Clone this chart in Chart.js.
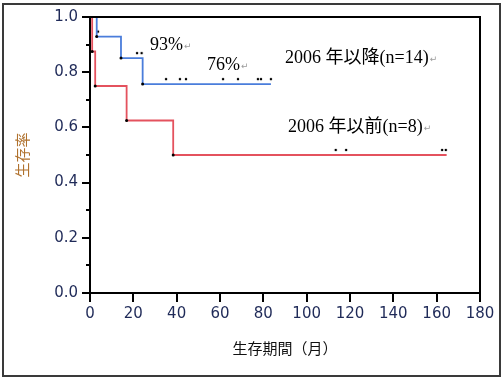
<!DOCTYPE html>
<html><head><meta charset="utf-8">
<script src="https://cdn.jsdelivr.net/npm/chart.js@4.4.1/dist/chart.umd.min.js"></script>
<style>html,body{margin:0;padding:0;background:#fff;}#wrap{width:504px;height:381px;}</style>
</head><body><div id="wrap"><canvas id="c" width="504" height="381"></canvas></div>
<script>
// ---- data ----
const xTickValues = [0, 20, 40, 60, 80, 100, 120, 140, 160, 180];
const yTickValues = [0.0, 0.2, 0.4, 0.6, 0.8, 1.0];
const yMinorTicks = [0.1, 0.3, 0.5, 0.7, 0.9];

// 2006年以降 (n=14): event times and survival after each step
const afterTimes = [0, 3.1, 14.3, 24.3, 83.5];
const afterSurv  = [1.0, 0.929, 0.851, 0.757, 0.757];
const afterCensor = [3.7, 21.7, 23.8, 35.1, 41.5, 44.3, 61.4, 68.3, 77.5, 78.9, 83.5];

// 2006年以前 (n=8)
const beforeTimes = [0, 1.0, 2.4, 16.9, 38.4, 164.6];
const beforeSurv  = [1.0, 0.875, 0.75, 0.625, 0.5, 0.5];
const beforeCensor = [113.4, 118.2, 162.5, 164.2];

const labelAfter = '2006 年以降(n=14)';
const labelBefore = '2006 年以前(n=8)';
const label1y = '93%';
const label5y = '76%';
const xTitle = '生存期間（月）';
const yTitle = '生存率';

// ---- helpers ----
function toPoints(ts, ss) { return ts.map((t, i) => ({x: t, y: ss[i]})); }
function survAt(ts, ss, t) { let v = ss[0]; for (let i = 0; i < ts.length; i++) { if (ts[i] <= t) v = ss[i]; } return v; }
function censorPoints(ts, ss, cs) { return cs.map(t => ({x: t, y: survAt(ts, ss, t)})); }

const censorImg = document.createElement('canvas');
censorImg.width = 6; censorImg.height = 16;
(function(){ const g = censorImg.getContext('2d'); g.fillStyle = '#000'; g.beginPath(); g.arc(3, 3, 1.25, 0, Math.PI*2); g.fill(); })();

const BLUE = '#4a7ddb';
const RED = '#e4525e';
const TICKCOL = '#1f2a58';

function eventRadius(n) { return ctx => (ctx.dataIndex === 0 || ctx.dataIndex === n - 1) ? 0 : 1.5; }

const decor = {
  id: 'decor',
  beforeDraw(chart) {
    const c = chart.ctx;
    c.save();
    c.fillStyle = '#fff'; c.fillRect(0, 0, chart.width, chart.height);
    c.strokeStyle = '#3a3a3a'; c.lineWidth = 2;
    c.strokeRect(3, 4, 497, 372);
    c.restore();
  },
  afterDraw(chart) {
    const c = chart.ctx, a = chart.chartArea, ys = chart.scales.y;
    c.save();
    c.strokeStyle = '#000'; c.lineWidth = 2;
    c.beginPath();
    c.moveTo(a.left, a.top); c.lineTo(a.right, a.top); c.lineTo(a.right, a.bottom);
    c.stroke();
    c.beginPath();
    yMinorTicks.forEach(v => { const p = Math.round(ys.getPixelForValue(v)); c.moveTo(a.left - 4, p); c.lineTo(a.left, p); });
    c.stroke();
    c.fillStyle = '#000';
    c.textBaseline = 'middle'; c.textAlign = 'left';
    c.font = "18px 'Liberation Serif', 'Noto Sans CJK JP', serif";
    const items = [[label1y, 150, 45], [label5y, 207, 65], [labelAfter, 285, 58], [labelBefore, 288, 127]];
    items.forEach(([t, x, y]) => {
      c.font = "18px 'Liberation Serif', 'Noto Sans CJK JP', serif";
      c.fillStyle = '#000';
      c.fillText(t, x, y);
      const w = c.measureText(t).width;
      c.font = "9px 'DejaVu Sans'";
      c.fillStyle = '#9a9a9a';
      c.fillText('↵', x + w + 1, y + 2);
    });
    c.restore();
  }
};

new Chart(document.getElementById('c'), {
  type: 'line',
  data: {
    datasets: [
      { label: labelAfter, data: toPoints(afterTimes, afterSurv), stepped: 'before', borderColor: BLUE, borderWidth: 1.8,
        pointRadius: eventRadius(afterTimes.length), pointBackgroundColor: '#000', pointBorderWidth: 0, fill: false },
      { label: labelBefore, data: toPoints(beforeTimes, beforeSurv), stepped: 'before', borderColor: RED, borderWidth: 1.8,
        pointRadius: eventRadius(beforeTimes.length), pointBackgroundColor: '#000', pointBorderWidth: 0, fill: false },
      { label: 'censor-after', data: censorPoints(afterTimes, afterSurv, afterCensor), showLine: false, pointStyle: censorImg, pointRadius: 3 },
      { label: 'censor-before', data: censorPoints(beforeTimes, beforeSurv, beforeCensor), showLine: false, pointStyle: censorImg, pointRadius: 3 }
    ]
  },
  options: {
    responsive: false, animation: false, devicePixelRatio: 1,
    layout: { padding: { left: 0, top: 17, right: 24, bottom: 0 } },
    plugins: { legend: { display: false }, tooltip: { enabled: false } },
    scales: {
      x: {
        type: 'linear', min: 0, max: 180,
        afterBuildTicks: s => { s.ticks = xTickValues.map(v => ({value: v})); },
        afterFit: s => { s.height = 88; },
        ticks: { font: { family: 'DejaVu Sans', size: 15 }, color: TICKCOL, padding: 3, maxRotation: 0, autoSkip: false },
        grid: { drawOnChartArea: false, drawTicks: true, tickLength: 9, color: '#000', lineWidth: 2 },
        border: { display: true, color: '#000', width: 2 },
        title: { display: true, text: xTitle, color: '#111', font: { family: "'Noto Sans CJK JP'", size: 15 }, padding: { top: 0, bottom: 24 } }
      },
      y: {
        type: 'linear', min: 0, max: 1,
        afterBuildTicks: s => { s.ticks = yTickValues.map(v => ({value: v})); },
        afterFit: s => { s.width = 90; },
        ticks: { font: { family: 'DejaVu Sans', size: 15 }, color: TICKCOL, padding: 4, callback: v => Number(v).toFixed(1) },
        grid: { drawOnChartArea: false, drawTicks: true, tickLength: 8, color: '#000', lineWidth: 2 },
        border: { display: true, color: '#000', width: 2 },
        title: { display: true, text: yTitle, color: '#b0722e', font: { family: "'Noto Sans CJK JP'", size: 15 }, padding: { top: 13, bottom: 0 } }
      }
    }
  },
  plugins: [decor]
});
</script></body></html>
